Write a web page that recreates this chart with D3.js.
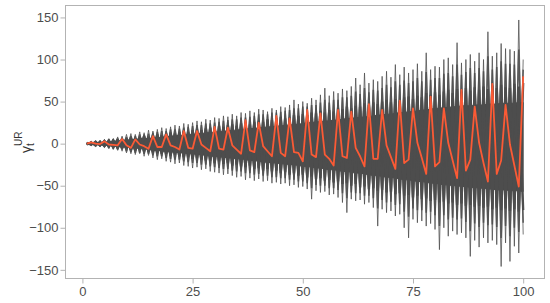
<!DOCTYPE html>
<html>
<head>
<meta charset="utf-8">
<script src="https://cdn.jsdelivr.net/npm/d3@7"></script>
<style>
  html, body { margin: 0; padding: 0; background: #fff; }
  svg { display: block; }
  text { font-family: "Liberation Sans", Arial, sans-serif; }
</style>
</head>
<body>
<svg id="chart" width="550" height="303"></svg>
<script>
// ---- data ----
const periods = d3.range(1, 101);
const xTicks = [0, 25, 50, 75, 100];
const yTicks = [-150, -100, -50, 0, 50, 100, 150];

// highlighted simulated path (orange-red)
const highlight = [0,1.5,0,-0.5,2.7,-1,-1.5,-2,5.6,-2,
  -5,5,-1,-3,-6,9,-4,-4,11,-2,
  -4,-7,15,-5,-6,15,-1,-5,-9,20,
  -6,-7,19,-2,-7,-12,28,-8,-10,25,
  -3,-9,-15,33,-11,-15,30,-10,-11,-21,
  40,-13,-16,36,-13,-18,-26,40,-15,-17,
  38,-5,-15,-27,47,-18,-18,40,-2,-16,
  -30,51,-23,-19,42,1,-17,-36,56,-27,
  -22,42,1,-20,-41,64,-32,-19,44,1,
  -23,-45,71,-36,-20,46,-1,-26,-51,80];

// grey bundle: extreme highs / lows per period
const extHigh = [1,3,3,4,5,6,6,8,9,11,
  12,11,14,13,16,15,17,19,18,20,
  22,21,24,23,25,27,26,29,28,31,
  30,33,32,35,33,37,36,39,37,41,
  40,38,42,40,44,43,46,52,47,50,
  48,54,52,58,66,57,62,60,65,63,
  68,78,70,84,72,76,74,80,86,79,
  94,82,91,84,88,95,86,108,88,92,
  91,100,102,94,120,96,100,106,98,108,
  100,133,104,108,119,113,112,110,147,100];
const extLow = [-1,-2,-3,-4,-4,-6,-7,-8,-9,-11,
  -12,-13,-12,-15,-14,-17,-19,-18,-21,-22,
  -24,-23,-26,-27,-29,-28,-31,-30,-33,-34,
  -35,-37,-36,-38,-40,-39,-43,-41,-44,-42,
  -45,-44,-47,-46,-48,-47,-50,-49,-52,-51,
  -54,-66,-56,-58,-57,-61,-60,-64,-70,-82,
  -66,-68,-67,-72,-70,-76,-98,-78,-82,-80,
  -86,-84,-100,-112,-90,-94,-92,-98,-95,-102,
  -126,-100,-110,-104,-108,-106,-112,-134,-115,-123,
  -112,-118,-115,-120,-146,-118,-140,-122,-130,-108];

// grey bundle: typical spike highs / lows per period
const midHigh = [1,2,3,3,4,5,5,6,7,8,
  9,9,11,11,12,13,14,15,15,17,
  17,18,19,20,21,22,22,24,24,25,
  26,27,28,29,29,31,31,32,33,35,
  35,35,37,37,38,39,40,42,42,44,
  44,46,46,49,52,49,52,52,55,55,
  57,62,59,66,61,64,63,66,70,67,
  74,70,75,72,74,78,74,85,76,78,
  78,83,84,80,94,82,85,90,84,90,
  86,104,88,91,98,95,95,94,112,88];
const midLow = [-1,-2,-3,-3,-4,-5,-6,-7,-7,-9,
  -10,-11,-11,-12,-12,-14,-15,-15,-17,-18,
  -19,-19,-21,-22,-23,-23,-25,-25,-27,-28,
  -29,-30,-30,-32,-33,-33,-35,-35,-37,-36,
  -38,-38,-40,-40,-41,-41,-43,-43,-45,-45,
  -47,-53,-49,-50,-50,-53,-53,-55,-59,-65,
  -58,-59,-59,-62,-62,-65,-77,-67,-70,-69,
  -73,-72,-81,-87,-77,-79,-79,-82,-81,-85,
  -98,-85,-90,-88,-90,-89,-93,-104,-95,-99,
  -94,-97,-96,-99,-112,-98,-110,-100,-105,-94];

// grey bundle: inner spike highs / lows per period
const innerHigh = [1,1,2,2,3,3,4,5,5,6,
  7,6,8,9,8,10,11,10,12,13,
  12,14,15,14,16,17,16,18,19,18,
  21,20,22,23,21,24,25,23,26,27,
  26,29,28,30,32,30,31,34,33,35,
  34,37,36,39,37,40,38,42,41,44,
  42,45,44,48,46,49,47,50,52,49,
  53,51,55,56,53,57,55,60,58,61,
  58,62,64,60,65,62,66,63,67,64,
  68,65,69,66,70,67,66,71,68,72];
const innerLow = [-1,-1,-2,-2,-3,-3,-4,-5,-5,-6,
  -7,-8,-7,-9,-10,-10,-11,-12,-12,-14,
  -13,-15,-16,-16,-18,-17,-19,-20,-20,-23,
  -21,-24,-23,-26,-25,-27,-28,-26,-30,-29,
  -32,-30,-33,-32,-35,-34,-37,-35,-38,-37,
  -40,-39,-42,-41,-44,-43,-46,-45,-48,-47,
  -50,-48,-52,-51,-54,-53,-56,-55,-58,-57,
  -60,-59,-62,-61,-64,-62,-66,-65,-68,-67,
  -70,-69,-71,-70,-73,-71,-74,-73,-75,-74,
  -76,-75,-78,-76,-79,-77,-80,-78,-81,-79];

// grey bundle: solid dense core per period
const denseHigh = [1,1,1,1,2,2,3,3,4,4,
  5,5,6,6,6,7,7,8,8,9,
  9,10,10,11,11,12,12,13,13,14,
  14,15,15,16,16,17,17,18,18,19,
  19,20,20,21,21,22,22,23,23,24,
  25,25,26,26,27,27,28,28,29,30,
  30,31,31,32,32,33,34,34,35,35,
  36,37,37,38,38,39,40,40,41,42,
  42,43,43,44,44,45,45,45,46,46,
  46,47,47,47,48,48,48,48,49,49];
const denseLow = [-1,-1,-1,-1,-2,-2,-3,-3,-4,-4,
  -5,-5,-6,-6,-7,-8,-8,-9,-9,-10,
  -10,-11,-11,-12,-12,-13,-13,-14,-15,-15,
  -16,-16,-17,-17,-18,-18,-19,-20,-20,-21,
  -22,-22,-23,-23,-24,-24,-25,-25,-26,-27,
  -27,-28,-29,-29,-30,-31,-31,-32,-33,-33,
  -34,-35,-35,-36,-37,-38,-38,-39,-40,-40,
  -41,-42,-43,-43,-44,-45,-45,-46,-47,-47,
  -48,-49,-49,-50,-50,-51,-51,-52,-52,-53,
  -53,-54,-54,-55,-55,-55,-56,-56,-56,-57];

// ---- layout ----
const svg = d3.select("#chart");
const mL = 65, mR = 545, mT = 5, mB = 278;
const x = d3.scaleLinear().domain([-3.95, 104.95]).range([mL, mR]);
const y = d3.scaleLinear().domain([-159.7, 164.8]).range([mB, mT]);

const grey = "#4d4d4d";
const frame = "#b3b3b3";
const labelCol = "#4d4d4d";

const plot = svg.append("g");

// dense core band
const area = d3.area()
  .x((d, i) => x(periods[i]))
  .y0((d, i) => y(denseLow[i]))
  .y1((d, i) => y(denseHigh[i]));
plot.append("path").datum(denseHigh).attr("d", area)
  .attr("fill", grey).attr("stroke", grey).attr("stroke-width", 1);

// zig-zag grey paths (alternate between the high and low of each tier)
const line = d3.line().x(d => x(d[0])).y(d => y(d[1]));
function zig(hi, lo, phase) {
  return periods.map((t, i) => [t, ((i + phase) % 2 === 0) ? hi[i] : lo[i]]);
}
const tiers = [
  [extHigh, extLow, 0.9, 0.85],
  [midHigh, midLow, 1.5, 0.9],
  [innerHigh, innerLow, 2.3, 1]
];
tiers.forEach(([hi, lo, w, op]) => {
  [0, 1].forEach(ph => {
    plot.append("path").datum(zig(hi, lo, ph)).attr("d", line)
      .attr("fill", "none").attr("stroke", grey)
      .attr("stroke-width", w).attr("stroke-opacity", op)
      .attr("stroke-linejoin", "miter").attr("stroke-miterlimit", 2);
  });
});

// highlighted path
plot.append("path")
  .datum(periods.map((t, i) => [t, highlight[i]]))
  .attr("d", line)
  .attr("fill", "none").attr("stroke", "#fb5a35")
  .attr("stroke-width", 1.8).attr("stroke-linejoin", "round");

// frame
svg.append("rect").attr("x", mL + 0.5).attr("y", mT + 0.5)
  .attr("width", mR - mL - 1).attr("height", mB - mT)
  .attr("fill", "none").attr("stroke", frame).attr("stroke-width", 1);

// axes
const xAxis = svg.append("g").attr("transform", `translate(0,${mB + 0.5})`)
  .call(d3.axisBottom(x).tickValues(xTicks).tickSize(5).tickPadding(3));
const yAxis = svg.append("g").attr("transform", `translate(${mL + 0.5},0)`)
  .call(d3.axisLeft(y).tickValues(yTicks).tickSize(5).tickPadding(2)
    .tickFormat(d => d < 0 ? "\u2212" + Math.abs(d) : d));
[xAxis, yAxis].forEach(g => {
  g.select(".domain").remove();
  g.selectAll(".tick line").attr("stroke", frame);
  g.selectAll(".tick text").attr("fill", labelCol)
    .style("font-size", "13px").style("font-family", "'Liberation Sans', Arial, sans-serif");
});

// y-axis title: gamma_t^UR
const yl = svg.append("g").attr("transform", "translate(31,143) rotate(-90)");
yl.append("text").attr("x", -3).attr("y", 0).attr("text-anchor", "end")
  .attr("fill", "#333").style("font-size", "14px").text("\u03B3");
yl.append("text").attr("x", -3).attr("y", 3).attr("text-anchor", "start")
  .attr("fill", "#333").style("font-size", "10px").text("t");
yl.append("text").attr("x", -3).attr("y", -9).attr("text-anchor", "start")
  .attr("fill", "#333").style("font-size", "10px").text("UR");
</script>
</body>
</html>
